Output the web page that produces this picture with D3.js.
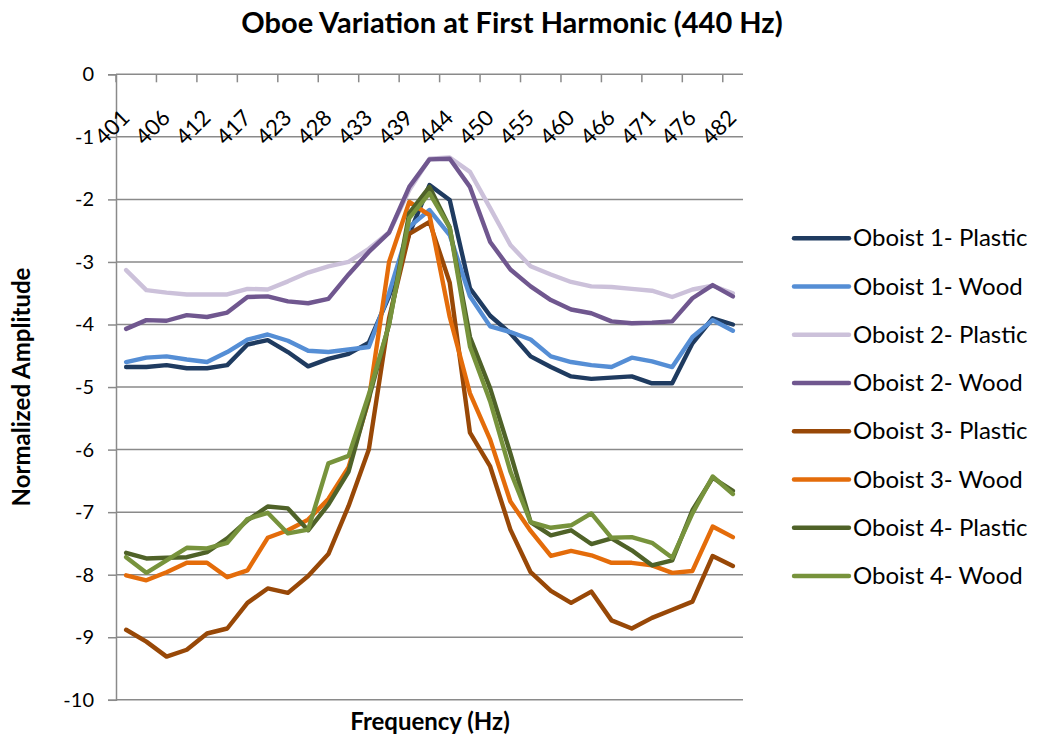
<!DOCTYPE html>
<html><head><meta charset="utf-8">
<script src="https://cdn.jsdelivr.net/npm/d3@7"></script>
<style>
body{margin:0;background:#fff;}
svg{display:block;font-family:Lato,"Open Sans",sans-serif;}
</style>
</head><body>
<svg id="chart" width="1040" height="740"></svg>
<script>
// ---- data ----
const frequencies = [401,404,406,409,412,415,417,420,423,425,428,431,433,436,439,441,444,447,450,452,455,458,460,463,466,468,471,474,476,479,482];
const yTicks = [0,-1,-2,-3,-4,-5,-6,-7,-8,-9,-10];
const seriesNames = ["Oboist 1- Plastic","Oboist 1- Wood","Oboist 2- Plastic","Oboist 2- Wood","Oboist 3- Plastic","Oboist 3- Wood","Oboist 4- Plastic","Oboist 4- Wood"];
const seriesColors = ["#1F3B60","#558ED5","#CCC1DA","#70578F","#984807","#E46C0A","#4F6228","#77933C"];

const oboist1Plastic = [-4.68,-4.68,-4.65,-4.70,-4.70,-4.65,-4.32,-4.25,-4.44,-4.67,-4.55,-4.47,-4.29,-3.55,-2.55,-1.77,-2.01,-3.42,-3.86,-4.14,-4.51,-4.68,-4.83,-4.87,-4.85,-4.83,-4.94,-4.94,-4.30,-3.90,-4.00];
const oboist1Wood = [-4.60,-4.53,-4.51,-4.56,-4.60,-4.44,-4.24,-4.16,-4.26,-4.42,-4.44,-4.40,-4.36,-3.50,-2.44,-2.17,-2.57,-3.55,-4.03,-4.12,-4.24,-4.51,-4.60,-4.65,-4.68,-4.53,-4.59,-4.68,-4.20,-3.93,-4.10];
const oboist2Plastic = [-3.13,-3.45,-3.49,-3.52,-3.52,-3.52,-3.43,-3.44,-3.31,-3.17,-3.07,-3.00,-2.79,-2.53,-1.85,-1.35,-1.33,-1.56,-2.14,-2.73,-3.07,-3.20,-3.32,-3.39,-3.40,-3.43,-3.46,-3.56,-3.44,-3.38,-3.50];
const oboist2Wood = [-4.07,-3.93,-3.94,-3.85,-3.88,-3.81,-3.56,-3.55,-3.63,-3.66,-3.59,-3.20,-2.84,-2.53,-1.80,-1.36,-1.35,-1.80,-2.68,-3.12,-3.39,-3.61,-3.76,-3.82,-3.95,-3.98,-3.97,-3.95,-3.58,-3.37,-3.55];
const oboist3Plastic = [-8.88,-9.07,-9.31,-9.20,-8.94,-8.86,-8.45,-8.22,-8.29,-8.02,-7.67,-6.90,-6.00,-3.90,-2.55,-2.36,-3.33,-5.73,-6.27,-7.28,-7.96,-8.26,-8.45,-8.27,-8.73,-8.86,-8.69,-8.56,-8.43,-7.70,-7.86];
const oboist3Wood = [-8.01,-8.09,-7.96,-7.81,-7.81,-8.04,-7.93,-7.41,-7.29,-7.12,-6.79,-6.28,-5.21,-3.00,-2.04,-2.25,-3.88,-5.10,-5.84,-6.83,-7.30,-7.70,-7.62,-7.69,-7.81,-7.81,-7.85,-7.97,-7.94,-7.23,-7.40];
const oboist4Plastic = [-7.65,-7.74,-7.73,-7.72,-7.64,-7.42,-7.13,-6.91,-6.94,-7.29,-6.88,-6.35,-5.18,-4.00,-2.22,-1.80,-2.45,-4.20,-5.02,-6.06,-7.16,-7.37,-7.29,-7.51,-7.42,-7.61,-7.85,-7.77,-6.97,-6.45,-6.66];
const oboist4Wood = [-7.72,-7.97,-7.77,-7.57,-7.58,-7.49,-7.11,-7.01,-7.34,-7.28,-6.22,-6.10,-5.12,-4.00,-2.30,-1.90,-2.45,-4.35,-5.23,-6.35,-7.16,-7.25,-7.21,-7.02,-7.41,-7.40,-7.49,-7.73,-7.02,-6.43,-6.71];

const allSeries = [oboist1Plastic,oboist1Wood,oboist2Plastic,oboist2Wood,oboist3Plastic,oboist3Wood,oboist4Plastic,oboist4Wood];

// ---- layout ----
const svg = d3.select("#chart");
const L = 116, R = 743, T = 74.3, B = 699.8;
const idx = d3.range(frequencies.length);
const xBand = d3.scaleBand().domain(idx).range([L, R]).paddingInner(0).paddingOuter(0);
const x = d3.scalePoint().domain(idx).range([L, R]).padding(0.5);
const y = d3.scaleLinear().domain([-10, 0]).range([B, T]);
const gridColor = "#8A8A8A";

// gridlines + y ticks
const yAxis = d3.axisLeft(y).tickValues(yTicks).tickSize(8).tickFormat(d => d);
const gy = svg.append("g").attr("transform", `translate(${L},0)`).call(yAxis);
gy.select(".domain").attr("stroke", gridColor).attr("stroke-width", 1.5);
gy.selectAll(".tick line").attr("stroke", gridColor).attr("stroke-width", 1.5);
gy.selectAll(".tick text").attr("font-size", 20).attr("fill", "#000").attr("x", -22).attr("font-family", "Lato, sans-serif");

svg.append("g").selectAll("line").data(yTicks).join("line")
  .attr("x1", L).attr("x2", R).attr("y1", d => y(d)).attr("y2", d => y(d))
  .attr("stroke", gridColor).attr("stroke-width", 1.5);

// x tick marks (between categories, every 2nd)
const tickIdx = idx.filter(i => i % 2 === 0);
svg.append("g").selectAll("line").data(tickIdx).join("line")
  .attr("x1", d => xBand(d)).attr("x2", d => xBand(d))
  .attr("y1", T).attr("y2", T + 8)
  .attr("stroke", gridColor).attr("stroke-width", 1.5);

// x labels rotated
svg.append("g").selectAll("text").data(tickIdx).join("text")
  .attr("transform", d => `translate(${x(d) + 5},${T + 45}) rotate(-45)`)
  .attr("text-anchor", "end")
  .attr("font-size", 22)
  .text(d => frequencies[d]);

// lines
const line = d3.line().x((d, i) => x(i)).y(d => y(d));
svg.append("g").selectAll("path").data(allSeries).join("path")
  .attr("d", d => line(d))
  .attr("fill", "none")
  .attr("stroke", (d, i) => seriesColors[i])
  .attr("stroke-width", 4.4)
  .attr("stroke-linejoin", "round")
  .attr("stroke-linecap", "round");

// title
svg.append("text").attr("x", 512).attr("y", 33).attr("text-anchor", "middle")
  .attr("font-size", 29).attr("font-weight", "bold").text("Oboe Variation at First Harmonic (440 Hz)");

// axis titles
svg.append("text").attr("x", 430).attr("y", 730).attr("text-anchor", "middle")
  .attr("font-size", 24).attr("font-weight", "bold").text("Frequency (Hz)");
svg.append("text").attr("transform", "translate(30,387) rotate(-90)").attr("text-anchor", "middle")
  .attr("font-size", 24).attr("font-weight", "bold").text("Normalized Amplitude");

// legend
const lg = svg.append("g").selectAll("g").data(seriesNames).join("g")
  .attr("transform", (d, i) => `translate(794,${238.3 + i * 48.25})`);
lg.append("line").attr("x1", 0).attr("x2", 55).attr("y1", 0).attr("y2", 0)
  .attr("stroke", (d, i) => seriesColors[i]).attr("stroke-width", 4.4).attr("stroke-linecap", "round");
lg.append("text").attr("x", 59).attr("y", 8).attr("font-size", 24).text(d => d);
</script>
</body></html>
